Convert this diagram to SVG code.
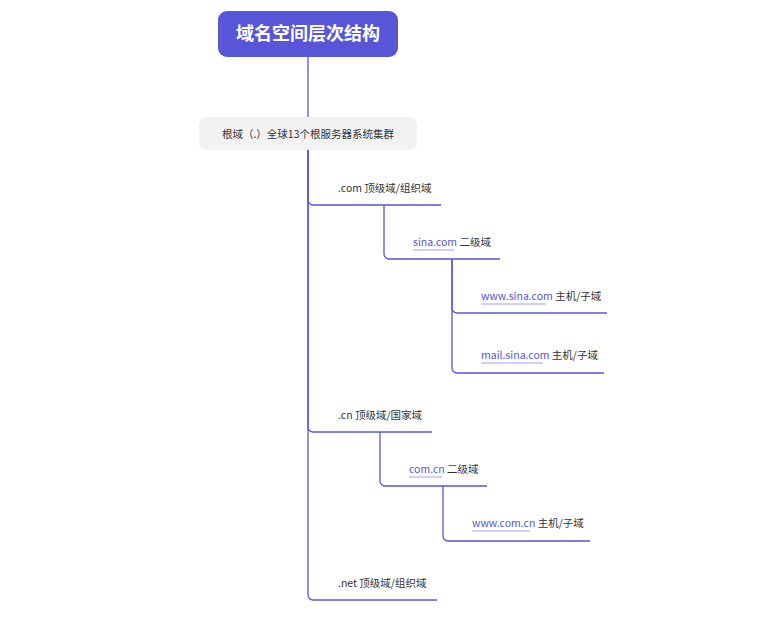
<svg xmlns="http://www.w3.org/2000/svg" width="777" height="618" viewBox="0 0 777 618">
<style>
.t{font-family:"Noto Sans CJK SC","Liberation Sans",sans-serif;font-size:10.5px;fill:#333}
.l{fill:#5856d6}
.c{fill:none;stroke:#5856d6;stroke-width:1.3}
.u{stroke:#8a88e6;stroke-width:0.8}
</style>
<rect width="777" height="618" fill="#fff"/>
<g id="connectors">
<path class="c" d="M308 57V150"/>
<path class="c" d="M308 150V595a5 5 0 0 0 5 5H437"/>
<path class="c" d="M308 150V200a5 5 0 0 0 5 5H441"/>
<path class="c" d="M308 150V427a5 5 0 0 0 5 5H432"/>
<path class="c" d="M384 205V254a5 5 0 0 0 5 5H500"/>
<path class="c" d="M452 259V308a5 5 0 0 0 5 5H607"/>
<path class="c" d="M452 259V368a5 5 0 0 0 5 5H604"/>
<path class="c" d="M380 432V481a5 5 0 0 0 5 5H487"/>
<path class="c" d="M443 486V536a5 5 0 0 0 5 5H590"/>
</g>
<g id="title"><rect x="218" y="11" width="180" height="46" rx="9" fill="#5856d6"/>
<text x="308" y="40" text-anchor="middle" style="font-family:'Noto Sans CJK SC',sans-serif;font-size:18px;font-weight:bold;fill:#fff">域名空间层次结构</text></g>
<g id="root"><rect x="199" y="117" width="218" height="33" rx="8" fill="#f2f2f2"/>
<text class="t" x="308" y="138" text-anchor="middle">根域（.）全球13个根服务器系统集群</text></g>
<g id="com"><text class="t" x="338" y="192">.com 顶级域/组织域</text></g>
<g id="sina"><text class="t" x="413" y="246"><tspan class="l">sina.com</tspan> 二级域</text><line class="u" x1="413" y1="250" x2="454" y2="250"/></g>
<g id="www-sina"><text class="t" x="481" y="300"><tspan class="l">www.sina.com</tspan> 主机/子域</text><line class="u" x1="481" y1="304" x2="546" y2="304"/></g>
<g id="mail-sina"><text class="t" x="481" y="359"><tspan class="l">mail.sina.com</tspan> 主机/子域</text><line class="u" x1="481" y1="363" x2="543" y2="363"/></g>
<g id="cn"><text class="t" x="338" y="419">.cn 顶级域/国家域</text></g>
<g id="comcn"><text class="t" x="409" y="473"><tspan class="l">com.cn</tspan> 二级域</text><line class="u" x1="409" y1="477" x2="442" y2="477"/></g>
<g id="www-comcn"><text class="t" x="472" y="527"><tspan class="l">www.com.cn</tspan> 主机/子域</text><line class="u" x1="472" y1="531" x2="530" y2="531"/></g>
<g id="net"><text class="t" x="338" y="587">.net 顶级域/组织域</text></g>
</svg>
